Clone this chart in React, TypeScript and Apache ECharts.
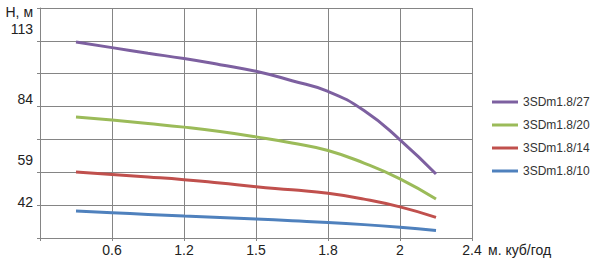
import React, { useEffect, useRef } from "react";
import * as echarts from "echarts";

// x positions in category-slot units (0..6 spans the labelled axis)
const xPositions = [0.5, 1, 1.5, 2, 2.5, 3, 3.5, 4, 4.5, 5, 5.5];
const xTickLabels = ["", "0.6", "1.2", "1.5", "1.8", "2", "2.4"];
const yTickLabels = [42, 59, 84, 113];

const seriesNames = ["3SDm1.8/27", "3SDm1.8/20", "3SDm1.8/14", "3SDm1.8/10"];
const head27 = [107.6, 105.3, 103.0, 100.8, 98.3, 95.6, 91.7, 87.3, 79.4, 67.4, 53.3];
const head20 = [76.8, 75.5, 74.1, 72.6, 70.8, 68.6, 66.1, 63.0, 57.8, 51.3, 43.0];
const head14 = [54.1, 53.1, 52.1, 51.0, 49.6, 48.1, 46.8, 45.4, 43.0, 39.8, 35.5];
const head10 = [38.1, 37.4, 36.7, 36.0, 35.4, 34.8, 34.1, 33.4, 32.5, 31.4, 30.1];

const colors = ["#7D60A0", "#9BBB59", "#C0504D", "#4F81BD"];

export default function App() {
  const ref = useRef<HTMLDivElement>(null);
  useEffect(() => {
    if (!ref.current) return;
    const chart = echarts.init(ref.current, null, { renderer: "svg" });
    const all = [head27, head20, head14, head10];
    const gray = "#858585";
    const font = "'Liberation Sans', Arial, sans-serif";
    chart.setOption({
      animation: false,
      backgroundColor: "#ffffff",
      textStyle: { fontFamily: font },
      grid: { left: 40, top: 8, width: 432, height: 230, containLabel: false },
      legend: {
        orient: "vertical",
        left: 487,
        top: 91,
        itemWidth: 26,
        itemHeight: 3,
        itemGap: 11,
        icon: "rect",
        data: seriesNames,
        textStyle: { fontSize: 12, color: "#333333", fontFamily: font },
      },
      xAxis: {
        type: "value",
        min: 0,
        max: 6,
        interval: 1,
        name: "м. куб/год",
        nameLocation: "end",
        nameGap: 16,
        nameTextStyle: {
          fontSize: 14,
          color: "#222222",
          verticalAlign: "top",
          padding: [5, 0, 0, 0],
        },
        axisLine: { show: true, lineStyle: { color: gray, width: 1 } },
        axisTick: { show: true, length: 3, lineStyle: { color: gray } },
        splitLine: { show: true, lineStyle: { color: gray, width: 1 } },
        axisLabel: {
          fontSize: 14,
          color: "#222222",
          margin: 5,
          formatter: (v: number) => xTickLabels[Math.round(v)] ?? "",
        },
      },
      yAxis: [
        {
          type: "value",
          min: 0,
          max: 7,
          interval: 1,
          axisLine: { show: true, lineStyle: { color: gray, width: 1 } },
          axisTick: { show: true, length: 3, lineStyle: { color: gray } },
          splitLine: { show: true, lineStyle: { color: gray, width: 1 } },
          axisLabel: { show: false },
        },
        {
          type: "value",
          position: "left",
          min: 27,
          max: 121.6,
          axisLine: { show: false },
          axisTick: { show: false },
          splitLine: { show: false },
          axisLabel: {
            show: true,
            customValues: yTickLabels,
            fontSize: 14,
            color: "#222222",
            margin: 7,
          },
        },
      ],
      graphic: [
        {
          type: "text",
          right: 592 - 33,
          top: 5,
          style: {
            text: "H, м",
            fontSize: 14,
            fill: "#222222",
            fontFamily: font,
          },
        },
      ],
      series: seriesNames.map((name, i) => ({
        name,
        type: "line",
        xAxisIndex: 0,
        yAxisIndex: 1,
        smooth: 0.5,
        symbol: "none",
        data: xPositions.map((x, j) => [x, all[i][j]]),
        lineStyle: { color: colors[i], width: 3 },
        itemStyle: { color: colors[i] },
      })),
    });
    return () => chart.dispose();
  }, []);
  return (
    <div
      ref={ref}
      style={{ position: "absolute", left: 0, top: 0, width: 592, height: 268 }}
    />
  );
}
